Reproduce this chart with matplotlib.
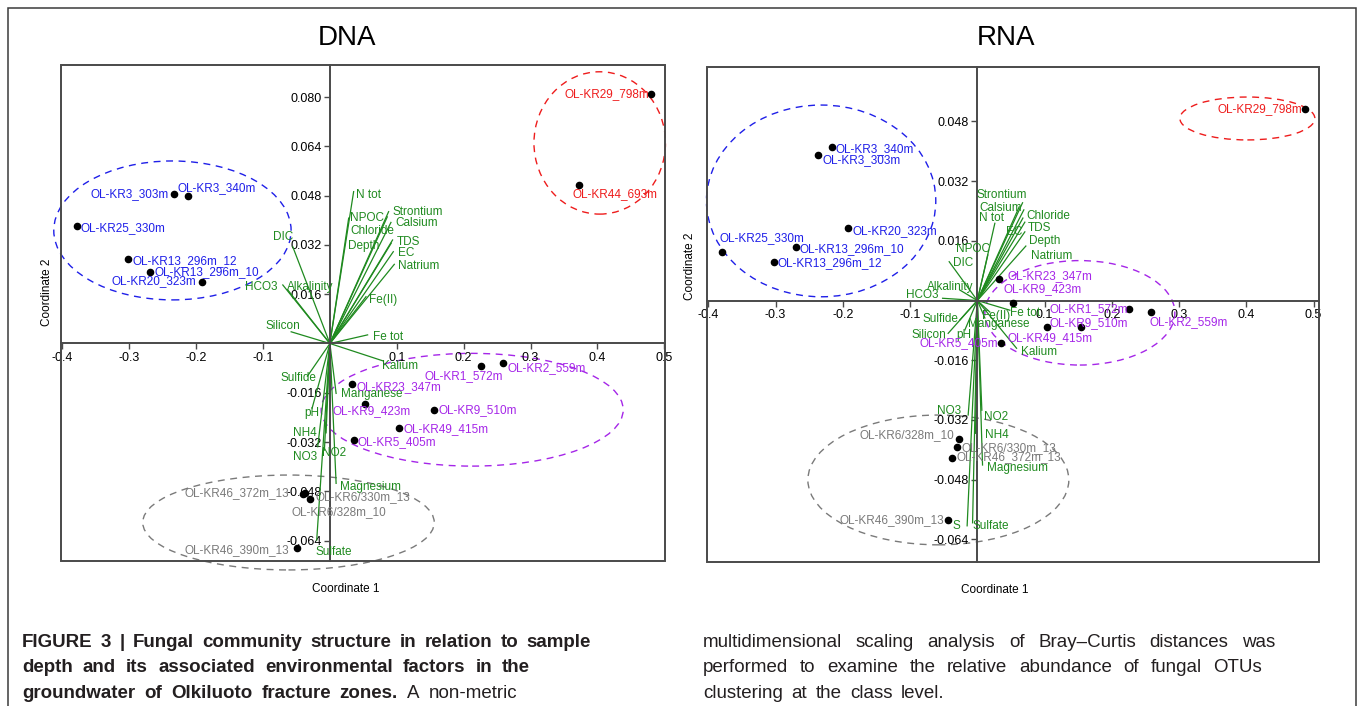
import numpy as np
import matplotlib
matplotlib.use('Agg')
import matplotlib.pyplot as plt
from matplotlib.patches import Ellipse, Rectangle

plt.rcParams['font.family'] = ['Liberation Sans', 'DejaVu Sans']

# ---------------- DNA panel data ----------------
dna_samples = ['OL-KR3_303m', 'OL-KR3_340m', 'OL-KR25_330m', 'OL-KR13_296m_12', 'OL-KR13_296m_10',
               'OL-KR20_323m', 'OL-KR29_798m', 'OL-KR44_693m', 'OL-KR1_572m', 'OL-KR2_559m',
               'OL-KR23_347m', 'OL-KR9_423m', 'OL-KR9_510m', 'OL-KR49_415m', 'OL-KR5_405m',
               'OL-KR46_372m_13', 'OL-KR6/328m_10', 'OL-KR6/330m_13', 'OL-KR46_390m_13']
dna_group = ['blue'] * 6 + ['red'] * 2 + ['purple'] * 7 + ['gray'] * 4
dna_x = [-0.2336, -0.2127, -0.3788, -0.3012, -0.2684, -0.1918, 0.4803, 0.372, 0.2256, 0.259,
         0.0331, 0.0525, 0.1555, 0.1037, 0.0366, -0.0406, -0.0366, -0.0296, -0.0485]
dna_y = [0.0484, 0.0479, 0.0381, 0.0275, 0.0233, 0.0199, 0.0810, 0.0514, -0.0073, -0.0062,
         -0.0132, -0.0197, -0.0216, -0.0273, -0.0313, -0.0488, -0.0484, -0.0506, -0.0665]
dna_lab_x = [-0.2410, -0.2281, -0.3724, -0.2952, -0.2619, -0.1997, 0.4769, 0.3624, 0.141, 0.2654,
             0.04, 0.0042, 0.1624, 0.1101, 0.0415, -0.0604, -0.057, -0.0216, -0.0604]
dna_lab_y = [0.0484, 0.0504, 0.0374, 0.0268, 0.0232, 0.0201, 0.0810, 0.0484, -0.01045, -0.00805,
             -0.0140, -0.0218, -0.0216, -0.0278, -0.0319, -0.0484, -0.0546, -0.0499, -0.0672]
dna_lab_ha = ['right', 'left', 'left', 'left', 'left', 'right', 'right', 'left', 'left', 'left',
              'left', 'left', 'left', 'left', 'left', 'right', 'left', 'left', 'right']

dna_env = ['N tot', 'NPOC', 'Chloride', 'Depth', 'Strontium', 'Calsium', 'TDS', 'EC', 'Natrium',
           'Fe(II)', 'Fe tot', 'Kalium', 'DIC', 'HCO3', 'Alkalinity', 'Silicon', 'Sulfide',
           'Manganese', 'pH', 'NH4', 'NO3', 'NO2', 'Magnesium', 'Sulfate']
dna_env_x = [0.0355, 0.0281, 0.0858, 0.0918, 0.0878, 0.0913, 0.0937, 0.0948, 0.0963, 0.054, 0.0564,
             0.0788, -0.0555, -0.0704, -0.063, -0.0579, -0.0336, 0.0093, -0.0266, -0.0057, -0.0182,
             -0.0082, 0.0093, -0.0197]
dna_env_y = [0.0493, 0.0407, 0.0411, 0.0326, 0.0428, 0.0393, 0.0336, 0.0298, 0.0257, 0.0152, 0.0028,
             -0.0056, 0.0314, 0.0190, 0.0174, 0.0038, -0.0106, -0.0162, -0.0210, -0.0290, -0.0335,
             -0.0346, -0.0454, -0.0638]
dna_env_lx = [0.0391, 0.0299, 0.0299, 0.0269, 0.0937, 0.0973, 0.1003, 0.1022, 0.1022, 0.059, 0.0639,
              0.0773, -0.0555, -0.0779, -0.0645, -0.044, -0.0206, 0.0167, -0.0157, -0.0197, -0.0197,
              -0.0116, 0.0152, -0.0221]
dna_env_ly = [0.0482, 0.0407, 0.0365, 0.0316, 0.0428, 0.0390, 0.0330, 0.0293, 0.0253, 0.0141, 0.0022,
              -0.0072, 0.0347, 0.0184, 0.0182, 0.0058, -0.0111, -0.0165, -0.0225, -0.0291, -0.0369,
              -0.0356, -0.0465, -0.0678]
dna_env_ha = ['left'] * 12 + ['right', 'right', 'left', 'right', 'right', 'left', 'right', 'right',
                             'right', 'left', 'left', 'left']

# group ellipses: centre x, centre y, width, height
dna_ell = {'blue': (-0.2354, 0.0367, 0.3548, 0.0451),
           'red': (0.4034, 0.0651, 0.1966, 0.0462),
           'purple': (0.2127, -0.0215, 0.4516, 0.0366),
           'gray': (-0.0619, -0.0581, 0.4358, 0.0308)}

# ---------------- RNA panel data ----------------
rna_samples = ['OL-KR3_340m', 'OL-KR3_303m', 'OL-KR20_323m', 'OL-KR25_330m', 'OL-KR13_296m_10',
               'OL-KR13_296m_12', 'OL-KR29_798m', 'OL-KR23_347m', 'OL-KR9_423m', 'OL-KR1_572m',
               'OL-KR2_559m', 'OL-KR9_510m', 'OL-KR49_415m', 'OL-KR5_405m', 'OL-KR6/328m_10',
               'OL-KR6/330m_13', 'OL-KR46_372m_13', 'OL-KR46_390m_13']
rna_group = ['blue'] * 6 + ['red'] + ['purple'] * 7 + ['gray'] * 4
rna_x = [-0.2164, -0.2367, -0.1926, -0.3804, -0.2699, -0.3026, 0.487, 0.0324, 0.0523, 0.2257,
         0.2575, 0.1029, 0.1535, 0.0349, -0.0271, -0.030, -0.0384, -0.0443]
rna_y = [0.0412, 0.0391, 0.0194, 0.0129, 0.0144, 0.0104, 0.0513, 0.0057, -0.0008, -0.0023,
         -0.0030, -0.0070, -0.0070, -0.0115, -0.0371, -0.0392, -0.0422, -0.0588]
rna_lab_x = [-0.2104, -0.2302, -0.1856, -0.3829, -0.2639, -0.2971, 0.4826, 0.0449, 0.0394, 0.1068,
             0.2555, 0.1068, 0.0454, 0.0305, -0.0349, -0.0235, -0.0309, -0.0498]
rna_lab_y = [0.0405, 0.0377, 0.0187, 0.0168, 0.0138, 0.0100, 0.0513, 0.0066, 0.0030, -0.0024,
             -0.0057, -0.0060, -0.0101, -0.0115, -0.0361, -0.0396, -0.0421, -0.0588]
rna_lab_ha = ['left'] * 6 + ['right'] + ['left'] * 6 + ['right', 'right', 'left', 'left', 'right']

rna_env = ['Strontium', 'Calsium', 'N tot', 'Chloride', 'EC', 'TDS', 'Depth', 'Natrium', 'NPOC',
           'DIC', 'Alkalinity', 'HCO3', 'Fe tot', 'Fe(II)', 'Manganese', 'Sulfide', 'Silicon', 'pH',
           'Kalium', 'NO3', 'NO2', 'NH4', 'Magnesium', 'S', 'Sulfate']
rna_env_x = [0.0672, 0.0622, 0.026, 0.0691, 0.0677, 0.0706, 0.0706, 0.0721, 0.0156, -0.0419, -0.026,
             -0.0517, 0.0483, 0.0186, 0.0112, -0.026, -0.0434, -0.0186, 0.0583, -0.0137, 0.0067,
             -0.0027, 0.0077, -0.0152, -0.0071]
rna_env_y = [0.0262, 0.0251, 0.0207, 0.0243, 0.0221, 0.0210, 0.0184, 0.0146, 0.0122, 0.0104, 0.0028,
             0.0006, -0.0026, -0.0031, -0.0047, -0.0052, -0.0088, -0.0079, -0.0128, -0.0307, -0.0294,
             -0.0356, -0.0441, -0.0604, -0.0596]
rna_env_lx = [-0.0012, 0.0027, 0.0027, 0.0732, 0.0419, 0.0755, 0.0766, 0.0791, 0.0186, -0.0369,
              -0.0755, -0.1063, 0.0483, 0.0062, -0.0137, -0.0815, -0.0978, -0.032, 0.0642, -0.0598,
              0.0097, 0.0112, 0.0137, -0.0369, -0.0071]
rna_env_ly = [0.0283, 0.0247, 0.0220, 0.0227, 0.0184, 0.0194, 0.0160, 0.0120, 0.0137, 0.0100, 0.0035,
              0.0015, -0.0034, -0.0042, -0.0064, -0.0050, -0.0093, -0.0093, -0.0137, -0.0295, -0.0313,
              -0.0361, -0.0448, -0.0604, -0.0604]
rna_env_ha = ['left'] * 8 + ['right'] + ['left'] * 16

rna_ell = {'blue': (-0.2323, 0.0267, 0.341, 0.0514),
           'red': (0.4015, 0.0488, 0.2007, 0.0115),
           'purple': (0.1524, -0.0033, 0.2825, 0.028),
           'gray': (-0.058, -0.0481, 0.388, 0.0348)}

xticks = [-0.4, -0.3, -0.2, -0.1, 0.1, 0.2, 0.3, 0.4, 0.5]
dna_yticks = [0.080, 0.064, 0.048, 0.032, 0.016, -0.016, -0.032, -0.048, -0.064]
rna_yticks = [0.048, 0.032, 0.016, -0.016, -0.032, -0.048, -0.064]

colors = {'blue': '#1f1fe8', 'red': '#ee1c1c', 'purple': '#a526e8', 'gray': '#7a7a7a'}
green = '#1f8a1f'
axcol = '#4a4a4a'

W, H = 1358, 706
fig = plt.figure(figsize=(W / 100, H / 100), dpi=100)

# outer frame (open at the bottom)
fig.add_artist(Rectangle((8 / W, -0.1), 1348 / W, 1.1 - 8 / H, transform=fig.transFigure,
                         fill=False, ec='#3a3a3a', lw=1.1))


def draw_panel(rect, xlim, ylim, yticks, names, groups, x, y, lx, ly, lha,
               env, ex, ey, elx, ely, eha, ells):
    ax = fig.add_axes(rect)
    ax.set_xlim(xlim)
    ax.set_ylim(ylim)
    for s in ['top', 'right']:
        ax.spines[s].set_visible(False)
    for s in ['left', 'bottom']:
        ax.spines[s].set_position(('data', 0))
        ax.spines[s].set_color(axcol)
        ax.spines[s].set_linewidth(1.4)
    ax.add_patch(Rectangle((0, 0), 1, 1, transform=ax.transAxes, fill=False,
                           ec=axcol, lw=1.4, clip_on=False, zorder=3))
    ax.set_xticks(xticks)
    ax.set_xticklabels([f'{v:g}' for v in xticks])
    ax.set_yticks(yticks)
    ax.set_yticklabels([f'{v:.3f}' for v in yticks])
    ax.tick_params(length=4, width=1, color=axcol, labelsize=9, pad=2)

    for g, (cx, cy, w, h) in ells.items():
        ax.add_patch(Ellipse((cx, cy), w, h, fill=False, ec=colors[g], lw=1.0,
                             ls=(0, (5, 4)), clip_on=False))

    for i in range(len(env)):
        ax.plot([0, ex[i]], [0, ey[i]], color=green, lw=0.9, zorder=2)
        ax.text(elx[i], ely[i], env[i], color=green, fontsize=8.5,
                ha=eha[i], va='center', zorder=5)

    ax.scatter(x, y, s=20, color='black', zorder=4)
    for i in range(len(names)):
        ax.text(lx[i], ly[i], names[i], color=colors[groups[i]], fontsize=8.5,
                ha=lha[i], va='center', zorder=5)
    return ax


draw_panel([61 / W, 1 - 561 / H, 604 / W, 496 / H], (-0.402, 0.501), (-0.0706, 0.0904),
           dna_yticks, dna_samples, dna_group, dna_x, dna_y, dna_lab_x, dna_lab_y, dna_lab_ha,
           dna_env, dna_env_x, dna_env_y, dna_env_lx, dna_env_ly, dna_env_ha, dna_ell)
draw_panel([707 / W, 1 - 562 / H, 612 / W, 495 / H], (-0.402, 0.508), (-0.0701, 0.0626),
           rna_yticks, rna_samples, rna_group, rna_x, rna_y, rna_lab_x, rna_lab_y, rna_lab_ha,
           rna_env, rna_env_x, rna_env_y, rna_env_lx, rna_env_ly, rna_env_ha, rna_ell)

# titles and axis labels
fig.text(347 / W, 1 - 38 / H, 'DNA', fontsize=20, ha='center', va='center')
fig.text(1006 / W, 1 - 38 / H, 'RNA', fontsize=20, ha='center', va='center')
fig.text(346 / W, 1 - 589 / H, 'Coordinate 1', fontsize=8.5, ha='center', va='center')
fig.text(995 / W, 1 - 590 / H, 'Coordinate 1', fontsize=8.5, ha='center', va='center')
fig.text(47 / W, 1 - 292 / H, 'Coordinate 2', fontsize=8.5, ha='center', va='center', rotation=90)
fig.text(690 / W, 1 - 266 / H, 'Coordinate 2', fontsize=8.5, ha='center', va='center', rotation=90)

# caption, laid out word by word to mimic the wide word spacing
# (start px, end px or None for natural spacing, baseline px, bold part, regular part)
cap_lines = [
    (22, 591, 647, 'FIGURE 3 | Fungal community structure in relation to sample', ''),
    (22, 530, 672, 'depth and its associated environmental factors in the', ''),
    (22, 517, 698, 'groundwater of Olkiluoto fracture zones.', 'A non-metric'),
    (703, 1275, 647, '', 'multidimensional scaling analysis of Bray\u2013Curtis distances was'),
    (703, 1262, 672, '', 'performed to examine the relative abundance of fungal OTUs'),
    (703, None, 698, '', 'clustering at the class level.'),
]
renderer = fig.canvas.get_renderer()
for x0, x1, yb, bold, normal in cap_lines:
    words = [(w, 'bold') for w in bold.split()] + [(w, 'normal') for w in normal.split()]
    texts = [fig.text(0, 1 - yb / H, w, fontsize=13.5, fontweight=wt, color='#231f20',
                      ha='left', va='baseline') for w, wt in words]
    widths = [t.get_window_extent(renderer).width for t in texts]
    if x1 is None:
        gap = 8.5
    else:
        gap = (x1 - x0 - sum(widths)) / max(len(texts) - 1, 1)
    xpos = x0
    for t, wd in zip(texts, widths):
        t.set_x(xpos / W)
        xpos += wd + gap

fig.savefig('out.png', dpi=100)
